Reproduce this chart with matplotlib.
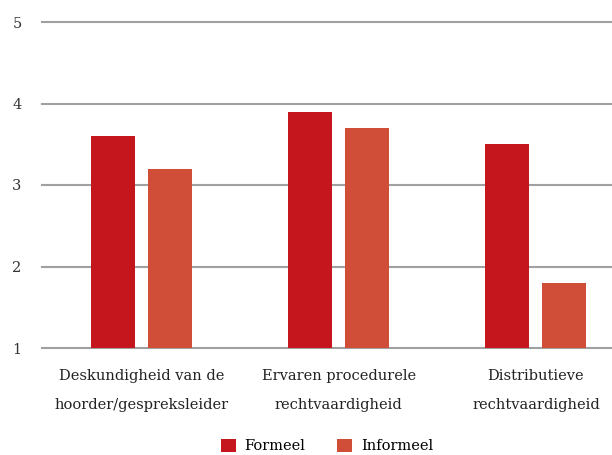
import numpy as np
import matplotlib.pyplot as plt

categories = ["Deskundigheid van de\nhoorder/gespreksleider",
              "Ervaren procedurele\nrechtvaardigheid",
              "Distributieve\nrechtvaardigheid"]
formeel = [3.6, 3.9, 3.5]
informeel = [3.2, 3.7, 1.8]
yticks = [1, 2, 3, 4, 5]

plt.rcParams['font.family'] = ['DejaVu Serif']

fig = plt.figure(figsize=(6.12, 4.55), dpi=100)
ax = fig.add_axes([42 / 612, 1 - 348 / 455, 570 / 612, 326 / 455])

x = np.arange(len(categories))
w = 0.223
ax.bar(x - 0.145, np.array(formeel) - 1, w, bottom=1, color="#c4161c",
       label="Formeel", zorder=3)
ax.bar(x + 0.145, np.array(informeel) - 1, w, bottom=1, color="#d04e38",
       label="Informeel", zorder=3)

ax.set_ylim(1, 5)
ax.set_xlim(-0.505, 2.386)
ax.set_yticks(yticks)
ax.set_yticklabels([str(v) for v in yticks], fontsize=10.5, color="#333333")
for v in yticks:
    ax.axhline(v, color="#a0a0a0", lw=1.5, zorder=1, clip_on=False)

ax.set_xticks(x)
ax.set_xticklabels(categories, fontsize=10.5, color="#222222", linespacing=2.4)
ax.tick_params(axis="both", length=0)
ax.tick_params(axis="x", pad=15)
ax.tick_params(axis="y", pad=18)
for lbl in ax.get_yticklabels():
    lbl.set_horizontalalignment("center")
for s in ax.spines.values():
    s.set_visible(False)

ax.legend(loc="center", bbox_to_anchor=(0.5, -0.3), ncol=2,
          frameon=False, fontsize=10.5, handlelength=1.0, handleheight=1.0,
          columnspacing=2.2, handletextpad=0.6)

fig.savefig("out.png", dpi=100)
